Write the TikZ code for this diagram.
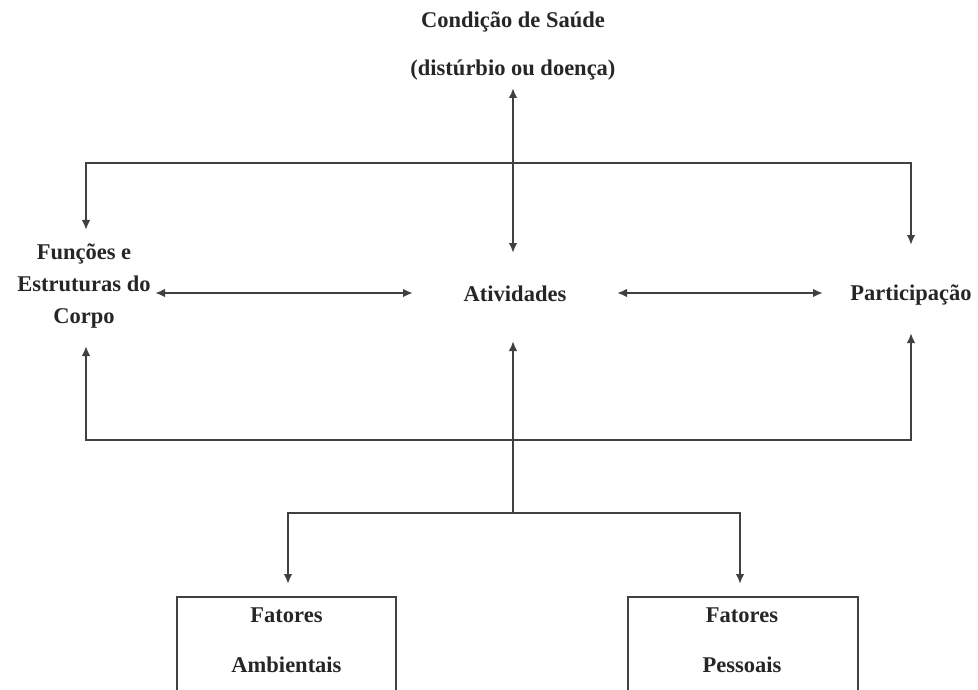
\documentclass[tikz,border=0pt]{standalone}
\usepackage{fontspec}
\setmainfont{Liberation Serif}
\usetikzlibrary{arrows.meta}
\begin{document}
\begin{tikzpicture}[x=1pt,y=-1pt,
  lbl/.style={font=\bfseries\fontsize{22.5}{22}\selectfont, text=black!85, inner sep=0pt, align=center},
  conn/.style={line width=2pt, draw=black!75},
  tip/.tip={Latex[length=10pt,width=8.5pt]},
  arr/.style={conn,-tip},
  darr/.style={conn,tip-tip},
  boxst/.style={draw=black!75, line width=2pt, minimum width=219pt, minimum height=140pt, anchor=north, inner sep=0pt}
]
\useasboundingbox (0,0) rectangle (978,690);
\clip (0,0) rectangle (978,690);
% texts
\node[lbl, font=\bfseries\fontsize{22.5}{48}\selectfont] (cond) at (513,46) {Condição de Saúde\\(distúrbio ou doença)};
\node[lbl, font=\bfseries\fontsize{22.5}{32}\selectfont] (func) at (84,286) {Funções e\\Estruturas do\\Corpo};
\node[lbl] (ativ) at (515,294) {Atividades};
\node[lbl] (part) at (911,295) {Participação};
% boxes
\node[boxst] (amb) at (286.5,596) {};
\node[boxst, minimum width=230pt] (pes) at (743,596) {};
\node[lbl, font=\bfseries\fontsize{22.5}{50}\selectfont] (ambt) at (286.5,640) {Fatores\\Ambientais};
\node[lbl, font=\bfseries\fontsize{22.5}{50}\selectfont] (pest) at (742,640) {Fatores\\Pessoais};
% coordinates
\coordinate (ctop) at (513,88);
\coordinate (cbot) at (513,253);
\coordinate (tl) at (86,163);
\coordinate (tr) at (911,163);
\coordinate (fa) at (86,230);
\coordinate (pa) at (911,245);
\coordinate (bl) at (86,440);
\coordinate (br) at (911,440);
\coordinate (bm) at (513,440);
\coordinate (fb) at (86,346);
\coordinate (pb) at (911,333);
\coordinate (ab) at (513,341);
\coordinate (sm) at (513,513);
\coordinate (sl) at (288,513);
\coordinate (sr) at (740,513);
\coordinate (al) at (288,584);
\coordinate (ar) at (740,584);
% connectors
\draw[darr] (ctop) -- (cbot);
\draw[arr] (tr) -- (tl) -- (fa);
\draw[arr] (tl) -- (tr) -- (pa);
\draw[darr] (155,293) -- (413,293);
\draw[darr] (617,293) -- (823,293);
\draw[arr] (bm) -- (bl) -- (fb);
\draw[arr] (bm) -- (br) -- (pb);
\draw[arr] (sm) -- (ab);
\draw[conn] (bm) -- (sm);
\draw[arr] (sm) -- (sl) -- (al);
\draw[arr] (sm) -- (sr) -- (ar);
\end{tikzpicture}
\end{document}
